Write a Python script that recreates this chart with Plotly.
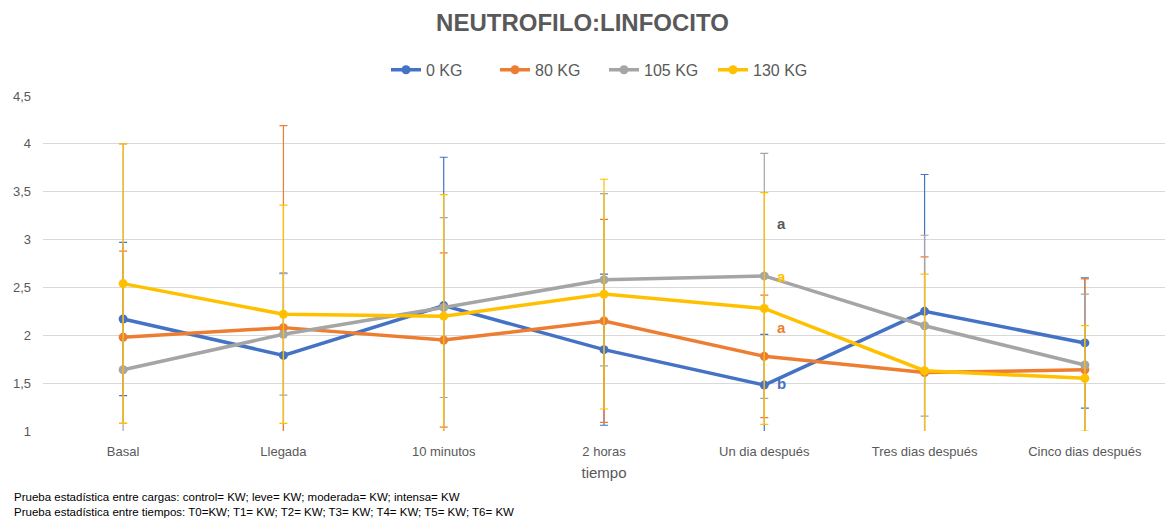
import plotly.graph_objects as go

# Time points (x categories)
tiempos = ["Basal", "Llegada", "10 minutos", "2 horas", "Un dia después",
           "Tres dias después", "Cinco dias después"]

# Mean neutrophil:lymphocyte ratio per load
kg0 = [2.17, 1.79, 2.31, 1.85, 1.48, 2.25, 1.92]
kg80 = [1.98, 2.08, 1.95, 2.15, 1.78, 1.61, 1.64]
kg105 = [1.64, 2.01, 2.29, 2.58, 2.62, 2.10, 1.69]
kg130 = [2.54, 2.22, 2.20, 2.43, 2.28, 1.63, 1.55]

# Standard deviations (symmetric error bars)
sd0 = [0.80, 0.86, 1.55, 0.79, 0.53, 1.43, 0.68]
sd80 = [0.90, 2.11, 0.91, 1.06, 0.64, 1.21, 0.95]
sd105 = [2.36, 0.635, 0.94, 0.90, 1.28, 0.945, 0.74]
sd130 = [1.46, 1.14, 1.27, 1.20, 1.21, 1.01, 0.55]

series_names = ["0 KG", "80 KG", "105 KG", "130 KG"]
colors = ["#4472C4", "#ED7D31", "#A5A5A5", "#FFC000"]

# Significance letters at "Un dia después"
letras = ["a", "a", "a", "b"]
letras_y = [3.17, 2.61, 2.08, 1.50]
letras_color = ["#595959", "#FFC000", "#ED7D31", "#4472C4"]

FONT = "Liberation Sans, Arial, sans-serif"
GRAY_TXT = "#595959"

fig = go.Figure()
for name, vals, sds, col in zip(series_names, [kg0, kg80, kg105, kg130],
                                [sd0, sd80, sd105, sd130], colors):
    fig.add_trace(go.Scatter(
        x=tiempos, y=vals, name=name, mode="lines+markers",
        line=dict(color=col, width=3.5),
        marker=dict(color=col, size=9),
        error_y=dict(type="data", array=sds, visible=True,
                     color=col, thickness=1.2, width=4),
    ))

for txt, yv, col in zip(letras, letras_y, letras_color):
    fig.add_annotation(x="Un dia después", y=yv, text=f"<b>{txt}</b>",
                       showarrow=False, xshift=17,
                       font=dict(family=FONT, size=15, color=col))

fig.add_annotation(
    xref="paper", yref="paper", x=-0.028, y=-0.172, xanchor="left", yanchor="top",
    align="left", showarrow=False,
    text=("Prueba estadística entre cargas: control= KW; leve= KW; moderada= KW; intensa= KW<br>"
          "Prueba estadística entre tiempos: T0=KW; T1= KW; T2= KW; T3= KW; T4= KW; T5= KW; T6= KW"),
    font=dict(family=FONT, size=11.5, color="#000000"),
)

fig.update_layout(
    width=1165, height=522,
    margin=dict(l=43, r=0, t=96, b=91),
    paper_bgcolor="white", plot_bgcolor="white",
    separators=",.",
    font=dict(family=FONT, color=GRAY_TXT),
    title=dict(text="<b>NEUTROFILO:LINFOCITO</b>", x=0.5, xanchor="center",
               y=1 - 23 / 522, yanchor="middle",
               font=dict(family=FONT, size=24, color=GRAY_TXT)),
    legend=dict(orientation="h", x=0.5, xanchor="center", y=1.078, yanchor="middle",
                font=dict(family=FONT, size=16, color=GRAY_TXT),
                itemwidth=30, entrywidth=64, entrywidthmode="pixels",
                bgcolor="rgba(0,0,0,0)"),
    xaxis=dict(type="category", range=[-0.5, 6.5], showgrid=False,
               showline=False, ticks="", zeroline=False, ticklabelstandoff=11,
               tickfont=dict(family=FONT, size=13, color=GRAY_TXT),
               title=dict(text="tiempo", standoff=9,
                          font=dict(family=FONT, size=15, color=GRAY_TXT))),
    yaxis=dict(range=[1, 4.5], dtick=0.5, tick0=1, showgrid=True,
               gridcolor="#D9D9D9", gridwidth=1, zeroline=False, showline=False,
               ticks="", tickformat=".1~f", ticklabelstandoff=11,
               tickfont=dict(family=FONT, size=13, color=GRAY_TXT)),
)

fig.write_html("out.html")
